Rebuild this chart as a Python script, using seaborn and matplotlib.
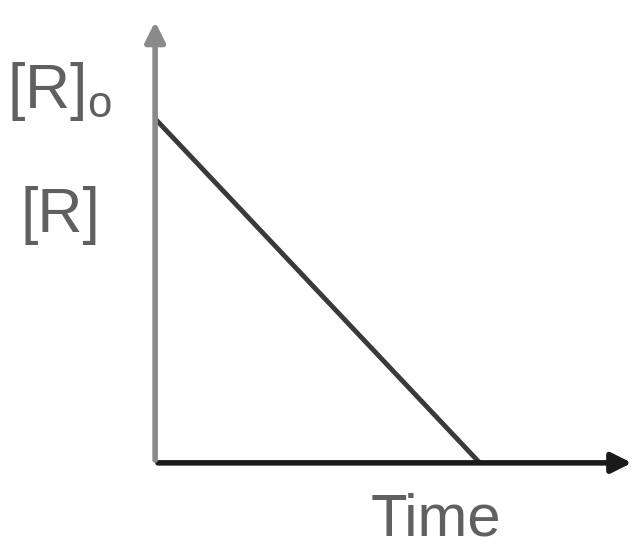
import numpy as np
import seaborn as sns
import matplotlib.pyplot as plt
import pandas as pd

# zero-order decay: [R] falls linearly from [R]0 to zero
time = [0, 10]
conc = [1.0, 0.0]
x_max = 14.77
y_max = 1.29

sns.set_style("white")
plt.rcParams['font.family'] = ['Liberation Sans', 'DejaVu Sans']
plt.rcParams['mathtext.fontset'] = 'custom'
plt.rcParams['mathtext.rm'] = 'Liberation Sans'
plt.rcParams['mathtext.it'] = 'Liberation Sans'

fig = plt.figure(figsize=(6.41, 5.55), dpi=100)
ax = fig.add_axes([0.242, 0.166, 0.748, 0.80])

df = pd.DataFrame({"time": time, "conc": conc})
sns.lineplot(data=df, x="time", y="conc", ax=ax, color="#3a3a3a", linewidth=3.5)

ax.set_xlim(0, x_max)
ax.set_ylim(0, y_max)
ax.set_xticks([])
ax.set_yticks([])
ax.set_xlabel("")
ax.set_ylabel("")
for s in ax.spines.values():
    s.set_visible(False)

# axes drawn as arrows
ax.annotate("", xy=(1.0, 0), xytext=(0, 0), xycoords="axes fraction",
            arrowprops=dict(arrowstyle="-|>", color="#1a1a1a", lw=4, mutation_scale=30),
            annotation_clip=False)
ax.annotate("", xy=(0, 1.0), xytext=(0, 0), xycoords="axes fraction",
            arrowprops=dict(arrowstyle="-|>", color="#8a8a8a", lw=4, mutation_scale=30),
            annotation_clip=False)

ytr = ax.get_yaxis_transform()
ax.text(-0.09, 1.03, r"[R]$_\mathregular{o}$", ha="right", va="baseline", fontsize=45,
        color="#606060", transform=ytr)
ax.text(-0.115, 0.671, "[R]", ha="right", va="baseline", fontsize=45,
        color="#606060", transform=ytr)
ax.text(8.66, -0.21, "Time", ha="center", va="baseline", fontsize=43, color="#606060",
        clip_on=False)

plt.savefig("out.png", dpi=100)
